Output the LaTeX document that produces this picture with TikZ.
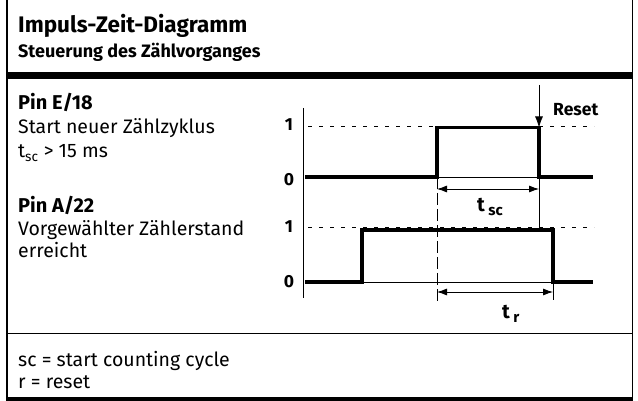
\documentclass[tikz,border=0pt]{standalone}
\usepackage{fontspec}
\setmainfont{Fira Sans}
\usetikzlibrary{arrows.meta}
\begin{document}
\begin{tikzpicture}[x=1pt,y=-1pt,
  txt/.style={anchor=base west,inner sep=0pt,font=\fontsize{19.5}{22}\selectfont},
  btxt/.style={anchor=base west,inner sep=0pt,font=\fontsize{20}{22}\selectfont\bfseries},
  lvl/.style={inner sep=0pt,font=\fontsize{17.5}{19}\selectfont\bfseries},
  sig/.style={line width=3.2pt},
  thin/.style={line width=0.8pt},
  lvldash/.style={line width=0.7pt,dash pattern=on 4pt off 7pt},
  vdash/.style={line width=0.7pt,dash pattern=on 12pt off 4pt},
  dim/.style={line width=0.8pt,{Latex[length=10pt,width=7pt]}-{Latex[length=10pt,width=7pt]}},
  frame/.style={line width=1.5pt}]
\useasboundingbox (0,0) rectangle (638,401);
% frame
\draw[frame] (7,0) -- (7,401);
\draw[frame] (632.5,0) -- (632.5,401);
\fill (6.25,72.5) rectangle (633.25,79.5);
\draw[line width=1pt] (7,333) -- (632.5,333);
\fill (6.25,397) rectangle (633.25,401);
% title
\node[anchor=base west,inner sep=0pt,font=\fontsize{22.5}{24}\selectfont\bfseries] (title) at (18,33) {Impuls-Zeit-Diagramm};
\node[anchor=base west,inner sep=0pt,font=\fontsize{18}{20}\selectfont\bfseries] (sub) at (18,58) {Steuerung des Zählvorganges};
% left texts
\node[btxt] (pe) at (18,110) {Pin E/18};
\node[txt] (pe1) at (18,134) {Start neuer Zählzyklus};
\node[txt] (pe2) at (18,158) {t\textsubscript{sc} > 15 ms};
\node[btxt] (pa) at (18,213) {Pin A/22};
\node[txt] (pa1) at (18,236) {Vorgewählter Zählerstand};
\node[txt] (pa2) at (18,258) {erreicht};
% bottom texts
\node[txt] (l1) at (18,366) {sc = start counting cycle};
\node[txt] (l2) at (18,388) {r = reset};
% level labels
\node[lvl] (u1) at (289,125) {1};
\node[lvl] (u0) at (289,179.5) {0};
\node[lvl] (d1) at (289,227) {1};
\node[lvl] (d0) at (289,282) {0};
% axis
\coordinate (axT) at (303,108);
\coordinate (axB) at (303,298);
\draw[thin] (axT) -- (axB);
% level dashes
\coordinate (ud1) at (308,126);
\coordinate (ud2) at (594,126);
\coordinate (dd1) at (308,227);
\coordinate (dd2) at (594,227);
\draw[lvldash] (ud1) -- (ud2);
\draw[lvldash] (dd1) -- (dd2);
% upper signal
\coordinate (a0) at (305,177);
\coordinate (a1) at (437,177);
\coordinate (a2) at (437,127.5);
\coordinate (a3) at (539,127.5);
\coordinate (a4) at (539,177);
\coordinate (a5) at (593,177);
\draw[thin] (a1) -- (a4);
\draw[sig,line join=miter] (a0) -- (a1) -- (a2) -- (a3) -- (a4) -- (a5);
% lower signal
\coordinate (b0) at (305,282);
\coordinate (b1) at (362,282);
\coordinate (b2) at (362,230);
\coordinate (b3) at (553,230);
\coordinate (b4) at (553,282);
\coordinate (b5) at (593,282);
\draw[thin] (b1) -- (b4);
\draw[sig,line join=miter] (b0) -- (b1) -- (b2) -- (b3) -- (b4) -- (b5);
% extension lines
\coordinate (v1) at (437,302);
\draw[vdash] (a1) -- (v1);
\coordinate (e1) at (539,229);
\draw[thin] (a4) -- (e1);
\coordinate (e2) at (553,300);
\draw[thin] (b4) -- (e2);
% dimension arrows
\coordinate (tsl) at (437,189);
\coordinate (tsr) at (539,189);
\draw[dim] (tsl) -- (tsr);
\node[anchor=base west,inner sep=0pt,font=\fontsize{20}{22}\selectfont\bfseries] (tsc) at (477,212) {t\,\raisebox{-4pt}{\fontsize{15}{16}\selectfont sc}};
\coordinate (trl) at (437,292);
\coordinate (trr) at (553,292);
\draw[dim] (trl) -- (trr);
\node[anchor=base west,inner sep=0pt,font=\fontsize{20}{22}\selectfont\bfseries] (tr) at (502,318) {t\,\raisebox{-4pt}{\fontsize{15}{16}\selectfont r}};
% reset
\coordinate (rs) at (539,85);
\draw[thin,-{Latex[length=11pt,width=8pt]}] (rs) -- (a3);
\node[anchor=base west,inner sep=0pt,font=\fontsize{17.5}{19}\selectfont\bfseries] (reset) at (553,116) {Reset};
\end{tikzpicture}
\end{document}
